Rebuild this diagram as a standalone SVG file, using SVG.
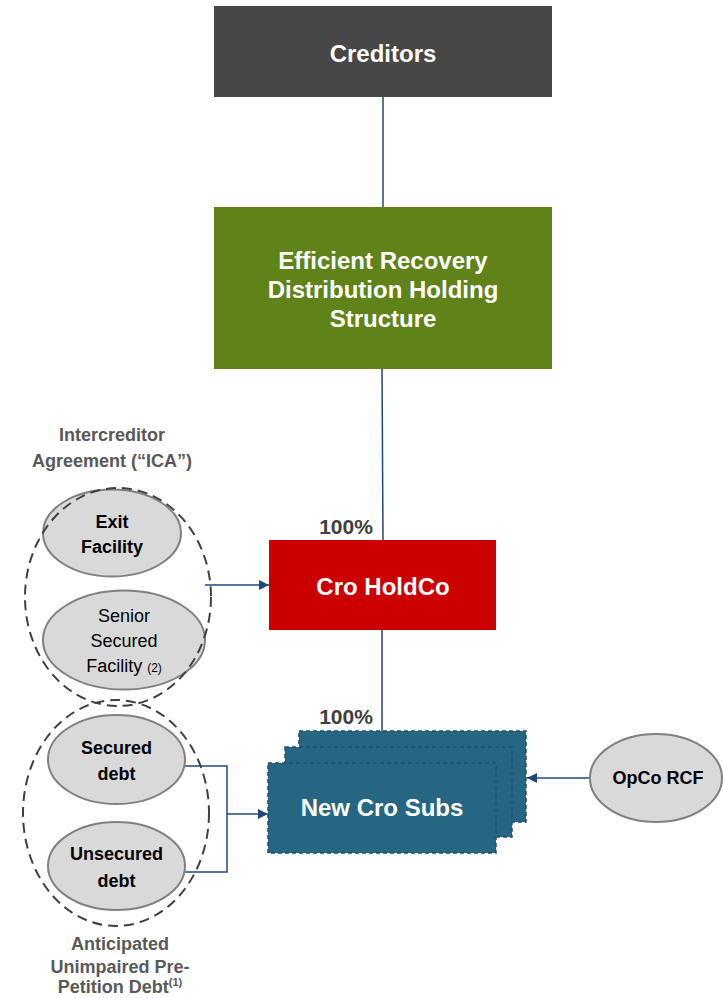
<svg xmlns="http://www.w3.org/2000/svg" width="723" height="998" viewBox="0 0 723 998">
<defs>
<style>
.t{font-family:"Liberation Sans",Arial,sans-serif;font-weight:bold;text-anchor:middle}
.wt{fill:#ffffff;font-size:24px}
.pct{fill:#404040;font-size:21px}
.lbl{fill:#595959;font-size:18px}
.el{fill:#d9d9d9;stroke:#808080;stroke-width:2}
.et{fill:#000000;font-size:18px}
.dash{fill:none;stroke:#404040;stroke-width:2;stroke-dasharray:10,6}
.sub{fill:#266683;stroke:#1f4e79;stroke-width:1.5;stroke-dasharray:4,3}
.ln{fill:none;stroke:#1f497d;stroke-width:1.5}
</style>
<marker id="ah" viewBox="0 0 10 10" refX="10" refY="5" markerWidth="10" markerHeight="10" markerUnits="userSpaceOnUse" orient="auto">
<path d="M0,0 L10,5 L0,10 z" fill="#1f497d"/>
</marker>
</defs>
<rect width="723" height="998" fill="#ffffff"/>

<g id="connectors">
<line class="ln" x1="383" y1="97" x2="383" y2="207"/>
<line class="ln" x1="382" y1="369" x2="383" y2="540"/>
<line class="ln" x1="382" y1="630" x2="382" y2="763"/>
<line class="ln" x1="205" y1="585" x2="269" y2="585" marker-end="url(#ah)"/>
<polyline class="ln" points="185,766 227,766 227,872 185,872"/>
<line class="ln" x1="227" y1="814" x2="268" y2="814" marker-end="url(#ah)"/>
<line class="ln" x1="590" y1="778" x2="527" y2="778" marker-end="url(#ah)"/>
</g>

<g id="creditors">
<rect x="214" y="6" width="338" height="91" fill="#474747"/>
<text class="t wt" x="383" y="62">Creditors</text>
</g>

<g id="erdhs">
<rect x="214" y="207" width="338" height="162" fill="#5f8319"/>
<text class="t wt" x="383" y="269">Efficient Recovery</text>
<text class="t wt" x="383" y="298">Distribution Holding</text>
<text class="t wt" x="383" y="327">Structure</text>
</g>

<g id="pct1"><text class="t pct" x="346" y="534">100%</text></g>

<g id="holdco">
<rect x="269" y="540" width="227" height="90" fill="#cc0000"/>
<text class="t wt" x="383" y="595">Cro HoldCo</text>
</g>

<g id="pct2"><text class="t pct" x="346" y="724">100%</text></g>

<g id="subs">
<rect class="sub" x="299" y="731" width="227" height="91"/>
<rect class="sub" x="285" y="747" width="227" height="90"/>
<rect class="sub" x="268" y="763" width="228" height="90"/>
<text class="t wt" x="382" y="816">New Cro Subs</text>
</g>

<g id="opco">
<ellipse class="el" cx="656" cy="778" rx="66" ry="44"/>
<text class="t et" x="658" y="784">OpCo RCF</text>
</g>

<g id="ica">
<text class="t lbl" x="112" y="441">Intercreditor</text>
<text class="t lbl" x="112" y="467">Agreement (“ICA”)</text>
<ellipse class="el" cx="112" cy="533" rx="69" ry="43.5"/>
<text class="t et" x="112" y="528">Exit</text>
<text class="t et" x="112" y="553">Facility</text>
<ellipse class="el" cx="124" cy="640" rx="81" ry="49.5"/>
<text class="t et" x="124" y="622" style="font-weight:normal">Senior</text>
<text class="t et" x="124" y="647" style="font-weight:normal">Secured</text>
<text class="t et" x="124" y="672" style="font-weight:normal">Facility <tspan font-size="12">(2)</tspan></text>
<ellipse class="dash" cx="118" cy="597" rx="93" ry="109"/>
</g>

<g id="unimpaired">
<ellipse class="el" cx="116.5" cy="759.5" rx="68.5" ry="44.5"/>
<text class="t et" x="116.5" y="754">Secured</text>
<text class="t et" x="116.5" y="780">debt</text>
<ellipse class="el" cx="116.5" cy="866" rx="68.5" ry="44"/>
<text class="t et" x="116.5" y="860">Unsecured</text>
<text class="t et" x="116.5" y="887">debt</text>
<ellipse class="dash" cx="116" cy="813" rx="93" ry="113"/>
<text class="t lbl" x="120" y="950">Anticipated</text>
<text class="t lbl" x="120" y="973">Unimpaired Pre-</text>
<text class="t lbl" x="120" y="993">Petition Debt<tspan font-size="11" dy="-7">(1)</tspan></text>
</g>
</svg>
